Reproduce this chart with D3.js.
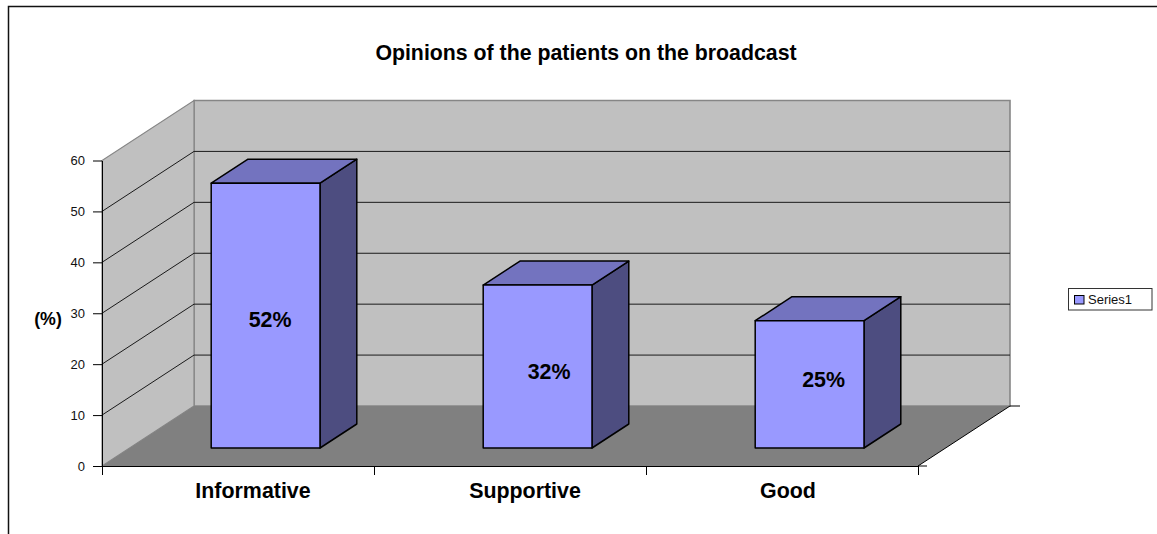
<!DOCTYPE html>
<html>
<head>
<meta charset="utf-8">
<script src="https://cdn.jsdelivr.net/npm/d3@7"></script>
<style>
  html, body { margin: 0; padding: 0; background: #fff; }
  svg { display: block; font-family: "Liberation Sans", Arial, sans-serif; }
</style>
</head>
<body>
<svg id="chart" width="1157" height="534"></svg>
<script>
// Chart content
const categories = ["Informative", "Supportive", "Good"];
const values = [52, 32, 25];
const valueLabels = ["52%", "32%", "25%"];
const yTicks = [0, 10, 20, 30, 40, 50, 60];
const seriesName = "Series1";
const chartTitle = "Opinions of the patients on the broadcast";
const yTitle = "(%)";

// Colours
const wallFill = "#c0c0c0", floorFill = "#808080", wallEdge = "#868686";
const frontFill = "#9999ff", topFill = "#7373bf", sideFill = "#4d4d80";

const svg = d3.select("#chart");

// Front plane scales
const y = d3.scaleLinear().domain([0, 60]).range([466, 160.5]);
const x = d3.scaleBand().domain(categories).range([102, 918]).paddingInner(0.6).paddingOuter(0.3);
const xEdge = d3.scaleLinear().domain([0, categories.length]).range([102, 918]);

// Oblique projection: depth 0 is the front plane, depth 1 the back wall
const depthX = 92, depthY = -60;
const proj = (px, py, d) => [px + d * depthX, py + d * depthY];
const line = pts => "M" + pts.map(p => p.join(",")).join("L") + "Z";
const x0 = xEdge.range()[0], x1 = xEdge.range()[1];
const yMin = y(0), yMax = y(60);

// Frame around the chart area (left and top edges)
svg.append("path").attr("d", "M8.5,534V6.5H1157").attr("fill", "none").attr("stroke", "#111").attr("stroke-width", 1.5);

// Back wall, side wall, floor
const walls = svg.append("g");
walls.append("path")
  .attr("d", line([proj(x0, yMin, 1), proj(x0, yMax, 1), proj(x1, yMax, 1), proj(x1, yMin, 1)]))
  .attr("fill", wallFill).attr("stroke", wallEdge).attr("stroke-width", 1.6);
walls.append("path")
  .attr("d", line([proj(x0, yMin, 0), proj(x0, yMax, 0), proj(x0, yMax, 1), proj(x0, yMin, 1)]))
  .attr("fill", wallFill).attr("stroke", wallEdge).attr("stroke-width", 1.2);
walls.append("path")
  .attr("d", line([proj(x0, yMin, 0), proj(x0, yMin, 1), proj(x1, yMin, 1), proj(x1, yMin, 0)]))
  .attr("fill", floorFill);

// Gridlines run along the side wall and across the back wall
const grid = svg.append("g").attr("fill", "none").attr("stroke", "#1a1a1a").attr("stroke-width", 1);
yTicks.filter(t => t > 0 && t < 60).forEach(t => {
  const a = proj(x0, y(t), 0), b = proj(x0, y(t), 1), c = proj(x1, y(t), 1);
  grid.append("path").attr("d", `M${a}L${b}L${c}`);
});

// Right floor edge with its outer tick
const fr = proj(x1, yMin, 0), bk = proj(x1, yMin, 1);
svg.append("path").attr("d", `M${fr}L${bk}h10`).attr("fill", "none").attr("stroke", "#000").attr("stroke-width", 1);

// Value axis
const yAxis = svg.append("g").attr("transform", `translate(${x0},0)`)
  .call(d3.axisLeft(y).tickValues(yTicks).tickSize(9).tickSizeOuter(0).tickPadding(8));
yAxis.selectAll("text").attr("font-size", 13).attr("font-family", "Liberation Sans").attr("fill", "#111");
yAxis.selectAll("line, path").attr("stroke", "#000");

// Category axis: ticks mark the edges of each category slot
const xAxis = svg.append("g").attr("transform", `translate(0,${yMin})`)
  .call(d3.axisBottom(xEdge).tickValues(d3.range(categories.length + 1)).tickFormat("").tickSize(9).tickSizeOuter(0));
xAxis.selectAll("line, path").attr("stroke", "#000");
svg.append("line").attr("x1", x1).attr("x2", x1 + 9).attr("y1", yMin).attr("y2", yMin).attr("stroke", "#000");

// Bars: the box sits between two depths inside the plot
const depthFront = 0.3, depthBack = 0.7;
const bars = svg.append("g").attr("stroke", "#000").attr("stroke-width", 1.5).attr("stroke-linejoin", "round");
categories.forEach((c, i) => {
  const l = x(c), r = l + x.bandwidth(), t = y(values[i]), b = yMin;
  const g = bars.append("g");
  g.append("path").attr("fill", sideFill).attr("d", line([
    proj(r, t, depthFront), proj(r, t, depthBack), proj(r, b, depthBack), proj(r, b, depthFront)]));
  g.append("path").attr("fill", topFill).attr("d", line([
    proj(l, t, depthFront), proj(l, t, depthBack), proj(r, t, depthBack), proj(r, t, depthFront)]));
  g.append("path").attr("fill", frontFill).attr("d", line([
    proj(l, t, depthFront), proj(r, t, depthFront), proj(r, b, depthFront), proj(l, b, depthFront)]));
});

// Value labels, placed by hand inside each bar
const labelNudge = [[4.5, 11], [11.5, 12], [14, 2.5]];
svg.append("g").selectAll("text").data(valueLabels).join("text")
  .attr("x", (d, i) => proj(x(categories[i]) + x.bandwidth() / 2, 0, depthFront)[0] + labelNudge[i][0])
  .attr("y", (d, i) => (proj(0, y(values[i]), depthFront)[1] + proj(0, yMin, depthFront)[1]) / 2 + labelNudge[i][1])
  .attr("text-anchor", "middle").attr("font-size", 21.4).attr("font-weight", "bold").attr("fill", "#000")
  .text(d => d);

// Category labels
const catNudge = [15, 15, 6];
svg.append("g").selectAll("text").data(categories).join("text")
  .attr("x", (d, i) => xEdge(i + 0.5) + catNudge[i]).attr("y", 498)
  .attr("text-anchor", "middle").attr("font-size", 21.4).attr("font-weight", "bold").attr("fill", "#000")
  .text(d => d);

// Titles
svg.append("text").attr("x", 586).attr("y", 60).attr("text-anchor", "middle")
  .attr("font-size", 21.3).attr("font-weight", "bold").attr("fill", "#000").text(chartTitle);
svg.append("text").attr("x", 48).attr("y", 325).attr("text-anchor", "middle")
  .attr("font-size", 17.8).attr("font-weight", "bold").attr("fill", "#000").text(yTitle);

// Legend
const legend = svg.append("g");
legend.append("rect").attr("x", 1068.5).attr("y", 288.5).attr("width", 83.5).attr("height", 21.5)
  .attr("fill", "#fff").attr("stroke", "#333").attr("stroke-width", 1);
legend.append("rect").attr("x", 1074.5).attr("y", 295.5).attr("width", 9.5).attr("height", 8.5)
  .attr("fill", frontFill).attr("stroke", "#000").attr("stroke-width", 1);
legend.append("text").attr("x", 1088).attr("y", 304).attr("font-size", 13).attr("fill", "#111").text(seriesName);
</script>
</body>
</html>
